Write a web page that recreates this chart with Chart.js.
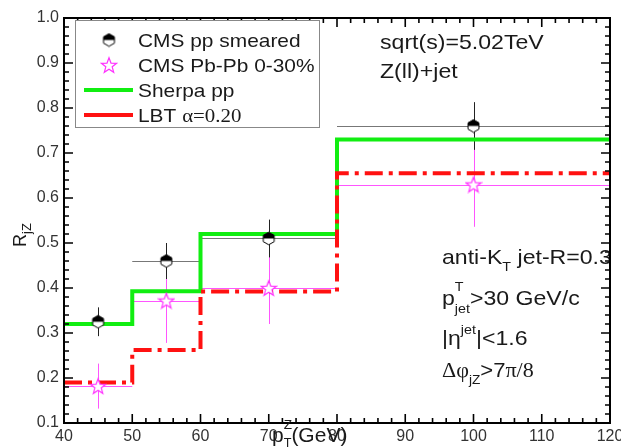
<!DOCTYPE html>
<html>
<head>
<meta charset="utf-8">
<script src="https://cdn.jsdelivr.net/npm/chart.js@4.4.0/dist/chart.umd.min.js"></script>
<style>
  html, body { margin: 0; background: #fff; }
</style>
</head>
<body>
<canvas id="rjzChart" width="621" height="448"></canvas>
<script>
// bins in pT^Z (GeV)
const binEdges = [40, 50, 60, 80, 120];
const ptCenters = [45, 55, 70, 100];

// theory curves (one value per bin)
const sherpaPP = [0.32, 0.393, 0.52, 0.73];
const lbtAlpha020 = [0.19, 0.262, 0.392, 0.655];

// CMS data
const cmsPP = [0.325, 0.46, 0.51, 0.76];
const cmsPPErr = [0.032, 0.04, 0.042, 0.053];
const cmsPbPb = [0.182, 0.372, 0.40, 0.63];
const cmsPbPbErr = [0.05, 0.094, 0.08, 0.094];

// axis ticks
const xTicks = [40, 50, 60, 70, 80, 90, 100, 110, 120];
const yTicks = [0.1, 0.2, 0.3, 0.4, 0.5, 0.6, 0.7, 0.8, 0.9, 1.0];

const SANS = '"Liberation Sans", Arial, sans-serif';
const SERIF = '"Liberation Serif", "Times New Roman", serif';

function stepData(vals) {
    const pts = vals.map((v, i) => ({ x: binEdges[i], y: v }));
    pts.push({ x: binEdges[binEdges.length - 1], y: vals[vals.length - 1] });
    return pts;
}

function hexMarker() {
    const c = document.createElement('canvas');
    c.width = 15; c.height = 15;
    const g = c.getContext('2d');
    const cx = 7.5, cy = 7.5, r = 6.3;
    const path = () => {
        g.beginPath();
        for (let k = 0; k < 6; k++) {
            const a = -Math.PI / 2 + k * Math.PI / 3;
            const px = cx + r * Math.cos(a), py = cy + r * Math.sin(a);
            k ? g.lineTo(px, py) : g.moveTo(px, py);
        }
        g.closePath();
    };
    path();
    g.fillStyle = '#fff';
    g.fill();
    g.save();
    g.beginPath();
    g.rect(0, 0, 15, cy);
    g.clip();
    path();
    g.fillStyle = '#000';
    g.fill();
    g.restore();
    path();
    g.strokeStyle = '#000';
    g.lineWidth = 1;
    g.stroke();
    return c;
}

function starMarker(size) {
    const c = document.createElement('canvas');
    c.width = size; c.height = size;
    const g = c.getContext('2d');
    const cx = size / 2, cy = size / 2 + 0.8, ro = size / 2 - 1, ri = ro * 0.42;
    g.beginPath();
    for (let k = 0; k < 10; k++) {
        const a = -Math.PI / 2 + k * Math.PI / 5;
        const rr = k % 2 ? ri : ro;
        const px = cx + rr * Math.cos(a), py = cy + rr * Math.sin(a);
        k ? g.lineTo(px, py) : g.moveTo(px, py);
    }
    g.closePath();
    g.fillStyle = '#fff';
    g.fill();
    g.strokeStyle = '#ff33ff';
    g.lineWidth = 1.2;
    g.stroke();
    return c;
}

const hexImg = hexMarker();
const starImg = starMarker(18);

// draw text pieces in a row: [text, font, dy, stay]
// stay = true -> next piece starts at the same x (stacked sub/superscript)
function drawRich(ctx, x, y, parts, sx, color) {
    ctx.save();
    ctx.translate(x, y);
    ctx.scale(sx || 1, 1);
    ctx.fillStyle = color || '#1a1a1a';
    ctx.textBaseline = 'alphabetic';
    ctx.textAlign = 'left';
    let cx = 0;
    for (const p of parts) {
        ctx.font = p[1];
        ctx.fillText(p[0], cx, p[2] || 0);
        if (!p[3]) cx += ctx.measureText(p[0]).width;
    }
    ctx.restore();
}

const errorBars = {
    id: 'errorBars',
    beforeDatasetsDraw(chart) {
        const { ctx, scales: { x, y } } = chart;
        const sets = [
            { vals: cmsPbPb, err: cmsPbPbErr, h: '#ff55ff', v: '#ff55ff' },
            { vals: cmsPP, err: cmsPPErr, h: '#777', v: '#222' }
        ];
        ctx.save();
        ctx.lineWidth = 1;
        for (const s of sets) {
            s.vals.forEach((val, i) => {
                const px = Math.round(x.getPixelForValue(ptCenters[i])) + 0.5;
                const py = Math.round(y.getPixelForValue(val)) + 0.5;
                ctx.strokeStyle = s.h;
                ctx.beginPath();
                ctx.moveTo(x.getPixelForValue(binEdges[i]), py);
                ctx.lineTo(x.getPixelForValue(binEdges[i + 1]), py);
                ctx.stroke();
                ctx.strokeStyle = s.v;
                ctx.beginPath();
                ctx.moveTo(px, y.getPixelForValue(val + s.err[i]));
                ctx.lineTo(px, y.getPixelForValue(val - s.err[i]));
                ctx.stroke();
            });
        }
        ctx.restore();
    }
};

const frameAndText = {
    id: 'frameAndText',
    afterDraw(chart) {
        const { ctx, chartArea: a, scales: { x, y } } = chart;
        ctx.save();
        // frame
        ctx.strokeStyle = '#000';
        ctx.lineWidth = 2;
        ctx.strokeRect(a.left, a.top, a.right - a.left, a.bottom - a.top);
        // inward ticks
        ctx.lineWidth = 1.6;
        ctx.beginPath();
        for (let v = 40; v <= 120; v += 2) {
            const px = x.getPixelForValue(v);
            const len = v % 10 === 0 ? 9 : 5;
            ctx.moveTo(px, a.bottom); ctx.lineTo(px, a.bottom - len);
            ctx.moveTo(px, a.top); ctx.lineTo(px, a.top + len);
        }
        for (let k = 5; k <= 50; k++) {
            const py = y.getPixelForValue(k / 50);
            const len = k % 5 === 0 ? 9 : 5;
            ctx.moveTo(a.left, py); ctx.lineTo(a.left + len, py);
            ctx.moveTo(a.right, py); ctx.lineTo(a.right - len, py);
        }
        ctx.stroke();

        // legend
        ctx.fillStyle = '#fff';
        ctx.fillRect(75, 20, 244, 107);
        ctx.strokeStyle = '#888';
        ctx.lineWidth = 1;
        ctx.strokeRect(75.5, 20.5, 244, 107);
        ctx.drawImage(hexImg, 109 - 7.5, 40 - 7.5);
        ctx.drawImage(starImg, 109 - 9, 65 - 9);
        ctx.lineWidth = 4;
        ctx.strokeStyle = '#11ee11';
        ctx.beginPath(); ctx.moveTo(84, 90); ctx.lineTo(133, 90); ctx.stroke();
        ctx.strokeStyle = '#ff1111';
        ctx.beginPath(); ctx.moveTo(84, 115); ctx.lineTo(133, 115); ctx.stroke();
        const lf = '19px ' + SANS;
        drawRich(ctx, 138, 47, [['CMS pp smeared', lf]], 1.1);
        drawRich(ctx, 138, 72, [['CMS Pb-Pb 0-30%', lf]], 1.1);
        drawRich(ctx, 138, 97, [['Sherpa pp', lf]], 1.1);
        drawRich(ctx, 138, 122, [['LBT ', lf], ['\u03b1=0.20', '19px ' + SERIF]], 1.1);

        // annotations
        const tf = '21px ' + SANS;
        const sub = '13px ' + SANS;
        drawRich(ctx, 380, 49, [['sqrt(s)=5.02TeV', tf]], 1.1);
        drawRich(ctx, 380, 78, [['Z(ll)+jet', tf]], 1.1);
        ctx.save();
        ctx.beginPath();
        ctx.rect(0, 0, a.right - 1, 448);
        ctx.clip();
        drawRich(ctx, 442, 264, [['anti-K', tf], ['T', sub, 7], [' jet-R=0.3', tf]], 1.1);
        ctx.restore();
        drawRich(ctx, 442, 305, [['p', tf], ['T', sub, -14, true], ['jet', sub, 8], ['>30 GeV/c', tf]], 1.1);
        drawRich(ctx, 442, 345, [['|\u03b7', tf], ['jet', sub, -11], ['|<1.6', tf]], 1.1);
        drawRich(ctx, 442, 377, [['\u0394\u03c6', '21px ' + SERIF], ['jZ', sub, 7], ['>7', tf], ['\u03c0/8', '21px ' + SERIF]], 1.05);

        // axis titles
        drawRich(ctx, 272, 442, [['p', '20px ' + SANS], ['Z', '13px ' + SANS, -13, true], ['T', '12px ' + SANS, 5], ['(GeV)', '20px ' + SANS]], 1.05);
        ctx.save();
        ctx.translate(26, 247);
        ctx.rotate(-Math.PI / 2);
        drawRich(ctx, 0, 0, [['R', '18px ' + SANS], ['jZ', '13px ' + SANS, 5]], 1);
        ctx.restore();
        ctx.restore();
    }
};

const ctx = document.getElementById('rjzChart').getContext('2d');
const rjzChart = new Chart(ctx, {
    data: {
        datasets: [
            {
                type: 'scatter',
                label: 'CMS pp smeared',
                data: ptCenters.map((v, i) => ({ x: v, y: cmsPP[i] })),
                pointStyle: hexImg,
                order: 0
            },
            {
                type: 'scatter',
                label: 'CMS Pb-Pb 0-30%',
                data: ptCenters.map((v, i) => ({ x: v, y: cmsPbPb[i] })),
                pointStyle: starImg,
                order: 1
            },
            {
                type: 'line',
                label: 'LBT alpha=0.20',
                data: stepData(lbtAlpha020),
                stepped: true,
                borderColor: '#ff1111',
                borderWidth: 4,
                borderDash: [18, 6, 4, 6],
                pointRadius: 0,
                fill: false,
                order: 2
            },
            {
                type: 'line',
                label: 'Sherpa pp',
                data: stepData(sherpaPP),
                stepped: true,
                borderColor: '#11ee11',
                borderWidth: 4,
                pointRadius: 0,
                fill: false,
                order: 3
            }
        ]
    },
    options: {
        responsive: false,
        animation: false,
        layout: { padding: { top: 18, right: 11, left: 0, bottom: 0 } },
        plugins: {
            legend: { display: false },
            tooltip: { enabled: false }
        },
        scales: {
            x: {
                type: 'linear',
                min: 40,
                max: 120,
                afterBuildTicks: s => { s.ticks = xTicks.map(v => ({ value: v })); },
                afterFit: s => { s.height = 25; s.paddingLeft = 0; s.paddingRight = 0; },
                grid: { display: false, drawTicks: false },
                border: { display: false },
                ticks: {
                    padding: 4,
                    color: '#333',
                    font: { family: SANS, size: 16 },
                    maxRotation: 0
                }
            },
            y: {
                type: 'linear',
                min: 0.1,
                max: 1.0,
                afterBuildTicks: s => { s.ticks = yTicks.map(v => ({ value: v })); },
                afterFit: s => { s.width = 64; s.paddingTop = 0; s.paddingBottom = 0; },
                grid: { display: false, drawTicks: false },
                border: { display: false },
                ticks: {
                    padding: 5,
                    color: '#333',
                    font: { family: SANS, size: 16 },
                    callback: v => v.toFixed(1)
                }
            }
        }
    },
    plugins: [errorBars, frameAndText]
});
</script>
</body>
</html>
